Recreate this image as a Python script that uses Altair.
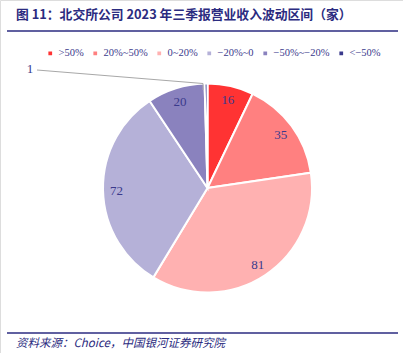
import altair as alt
import pandas as pd

categories = [">50%", "20%~50%", "0~20%", "−20%~0", "−50%~−20%", "<−50%"]
counts = [16, 35, 81, 72, 20, 1]
colors = ["#FF3333", "#FF8080", "#FFB1B1", "#B5B1D8", "#8A82BE", "#3A3A8C"]

title_text = "图 11：北交所公司 2023 年三季报营业收入波动区间（家）"
source_text = "资料来源：Choice，中国银河证券研究院"

df = pd.DataFrame({"cat": categories, "n": counts, "order": list(range(len(categories)))})
df["label"] = df["n"].astype(str)

navy = "#2B2B80"
txt = "#3A3A8C"
CX, CY, R = 207.5, 188, 104.5

base = alt.Chart(df).encode(
    theta=alt.Theta("n:Q", stack=True),
    order=alt.Order("order:Q"),
)

arcs = base.mark_arc(outerRadius=R, stroke="white", strokeWidth=2).encode(
    x=alt.value(CX),
    y=alt.value(CY),
    color=alt.Color(
        "cat:N",
        scale=alt.Scale(domain=categories, range=colors),
        sort=categories,
        legend=alt.Legend(
            title=None,
            orient="none",
            legendX=45,
            legendY=48,
            direction="horizontal",
            symbolType="square",
            symbolSize=14,
            symbolStrokeWidth=0,
            labelFont="Liberation Serif",
            labelFontSize=10.5,
            labelColor=txt,
            columnPadding=6,
            labelOffset=3,
            padding=0,
        ),
    ),
)

labels = base.mark_text(
    radius=91, font="Liberation Serif", fontSize=13, color=txt, baseline="middle"
).encode(
    x=alt.value(CX),
    y=alt.value(CY + 1),
    text=alt.Text("label:N"),
    opacity=alt.condition("datum.n > 1", alt.value(1), alt.value(0)),
)

small = alt.Chart(pd.DataFrame({"t": ["1"]})).mark_text(
    font="Liberation Serif", fontSize=13, color=txt, align="center", baseline="middle"
).encode(x=alt.value(30), y=alt.value(69), text="t:N")

leader = alt.Chart(pd.DataFrame({"x": [37, 203, 203], "y": [70, 83.5, 90], "o": [0, 1, 2]})).mark_line(
    color="#A8A8A8", strokeWidth=1
).encode(
    x=alt.X("x:Q", scale=alt.Scale(domain=[0, 403]), axis=None),
    y=alt.Y("y:Q", scale=alt.Scale(domain=[353, 0]), axis=None),
    order="o:Q",
)

title = alt.Chart(pd.DataFrame({"t": [title_text]})).mark_text(
    font="Noto Sans CJK SC", fontSize=12.8, fontWeight="bold", color=navy, align="left", baseline="middle"
).encode(x=alt.value(16), y=alt.value(15), text="t:N")

source = alt.Chart(pd.DataFrame({"t": [source_text]})).mark_text(
    font="Noto Sans CJK SC", fontSize=11.5, fontStyle="italic", color=navy, align="left", baseline="middle"
).encode(x=alt.value(16), y=alt.value(344), text="t:N")

top_rule = alt.Chart(pd.DataFrame({"a": [0]})).mark_rule(color=navy, strokeWidth=1.5).encode(
    x=alt.value(7), x2=alt.value(398), y=alt.value(31)
)
bot_rule = alt.Chart(pd.DataFrame({"a": [0]})).mark_rule(color=navy, strokeWidth=1.5).encode(
    x=alt.value(7), x2=alt.value(398), y=alt.value(333)
)

chart = alt.layer(arcs, labels, leader, small, title, source, top_rule, bot_rule).properties(
    width=403, height=353, autosize=alt.AutoSizeParams(type="none"), padding=0
).configure_view(stroke=None).configure(background="white")

chart.save("out.html", embed_options={"renderer": "svg", "actions": False})
